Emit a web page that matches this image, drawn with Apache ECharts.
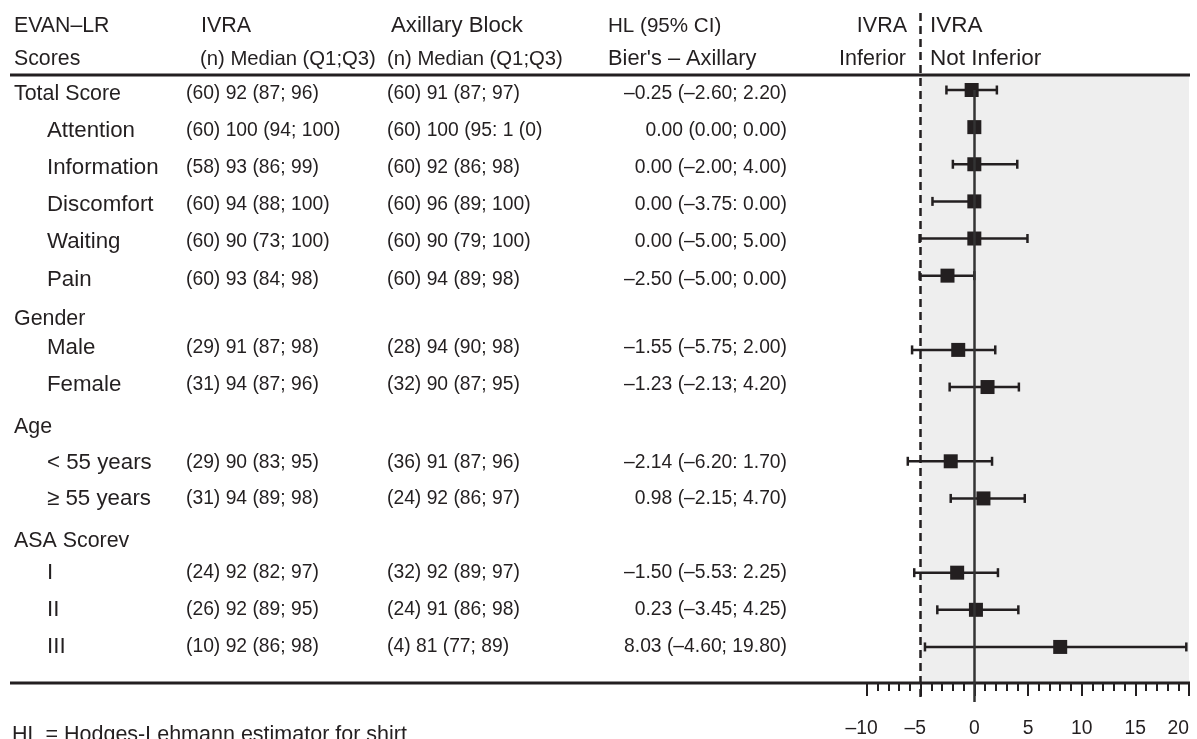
<!DOCTYPE html>
<html>
<head>
<meta charset="utf-8">
<script src="https://cdn.jsdelivr.net/npm/echarts@6/dist/echarts.min.js"></script>
<style>
html,body{margin:0;padding:0;background:#ffffff;}
#c{width:1197px;height:739px;}
</style>
</head>
<body>
<div id="c"></div>
<script>
// ---------- data ----------
const rowLabels = ['Total Score','Attention','Information','Discomfort','Waiting','Pain',
  'Gender','Male','Female','Age','< 55 years','\u2265 55 years','ASA Scorev','I','II','III'];
const rowIndent = [0,1,1,1,1,1,0,1,1,0,1,1,0,1,1,1];
// vertical position (in row units) of each text line
const textRow = [0.11,1.09,2.09,3.1,4.08,5.1,6.17,6.94,7.95,9.08,10.05,11.02,12.15,13.0,14.0,15.0];
const ivraText = ['(60) 92 (87; 96)','(60) 100 (94; 100)','(58) 93 (86; 99)','(60) 94 (88; 100)',
  '(60) 90 (73; 100)','(60) 93 (84; 98)','','(29) 91 (87; 98)','(31) 94 (87; 96)','',
  '(29) 90 (83; 95)','(31) 94 (89; 98)','','(24) 92 (82; 97)','(26) 92 (89; 95)','(10) 92 (86; 98)'];
const axillaryText = ['(60) 91 (87; 97)','(60) 100 (95: 1 (0)','(60) 92 (86; 98)','(60) 96 (89; 100)',
  '(60) 90 (79; 100)','(60) 94 (89; 98)','','(28) 94 (90; 98)','(32) 90 (87; 95)','',
  '(36) 91 (87; 96)','(24) 92 (86; 97)','','(32) 92 (89; 97)','(24) 91 (86; 98)','(4) 81 (77; 89)'];
const hlText = ['\u20130.25 (\u20132.60; 2.20)','0.00 (0.00; 0.00)','0.00 (\u20132.00; 4.00)','0.00 (\u20133.75: 0.00)',
  '0.00 (\u20135.00; 5.00)','\u20132.50 (\u20135.00; 0.00)','','\u20131.55 (\u20135.75; 2.00)','\u20131.23 (\u20132.13; 4.20)','',
  '\u20132.14 (\u20136.20: 1.70)','0.98 (\u20132.15; 4.70)','','\u20131.50 (\u20135.53: 2.25)','0.23 (\u20133.45; 4.25)','8.03 (\u20134.60; 19.80)'];
// plotted estimates and CI; null = heading row
const estimate = [-0.25, 0, 0, 0, 0, -2.5, null, -1.5, 1.23, null, -2.2, 0.85, null, -1.6, 0.15, 8.0];
const ciLow    = [-2.6, 0, -2.0, -3.9, -5.1, -5.1, null, -5.8, -2.3, null, -6.2, -2.2, null, -5.6, -3.45, -4.6];
const ciHigh   = [2.1, 0, 4.0, 0, 4.95, 0, null, 1.95, 4.15, null, 1.65, 4.7, null, 2.2, 4.1, 19.75];
const headerLine1 = ['EVAN\u2013LR','IVRA','Axillary Block','HL (95% CI)','IVRA','IVRA'];
const headerLine2 = ['Scores','(n) Median (Q1;Q3)','(n) Median (Q1;Q3)',"Bier's \u2013 Axillary",'Inferior','Not Inferior'];
const xMin = -10, xMax = 20, xInterval = 5;
const nonInferiorMargin = -5;

// ---------- layout ----------
const FONT = '"Liberation Sans", Arial, Helvetica, sans-serif';
const INK = '#231f20';
const yMin = -2.0738, yMax = 16.483;      // row-unit range of the plot grid
const ruleTop = -0.404, ruleBottom = 15.971;
const head1 = -1.724, head2 = -0.835;
const headerX1 = [14, 201, 391, 608, 907, 930];
const headerX2 = [14, 200, 387, 608, 906, 930];
const headerSize1 = [21.3, 21.5, 22.2, 20.6, 21.5, 22.5];
const headerSize2 = [21.3, 20.3, 20.3, 21.8, 21.5, 22.5];
const headerAlign = ['left','left','left','left','right','left'];

function txt(x, y, s, size, align) {
  return {type:'text', x:x, y:y, silent:true,
    style:{text:s, fill:INK, fontSize:size, fontFamily:FONT, align:align||'left', verticalAlign:'middle'}};
}

function renderRow(params, api) {
  const i = params.dataIndex;
  const y = api.coord([0, textRow[i]])[1];
  const ch = [txt(rowIndent[i] ? 47 : 14, y, rowLabels[i], rowIndent[i] ? 22.3 : 21.4, 'left')];
  if (ivraText[i]) ch.push(txt(186, y, ivraText[i], 19.3, 'left'));
  if (axillaryText[i]) ch.push(txt(387, y, axillaryText[i], 19.3, 'left'));
  if (hlText[i]) ch.push(txt(787, y, hlText[i], 19.3, 'right'));
  return {type:'group', children:ch};
}

function renderFrame(params, api) {
  const y1 = api.coord([0, head1])[1];
  const y2 = api.coord([0, head2])[1];
  const yt = api.coord([0, ruleTop])[1];
  const yb = api.coord([0, ruleBottom])[1];
  const ch = [];
  headerLine1.forEach((s, k) => ch.push(txt(headerX1[k], y1, s, headerSize1[k], headerAlign[k])));
  headerLine2.forEach((s, k) => ch.push(txt(headerX2[k], y2, s, headerSize2[k], headerAlign[k])));
  ch.push({type:'line', silent:true, shape:{x1:10, y1:yt, x2:1190, y2:yt}, style:{stroke:INK, lineWidth:3}});
  ch.push({type:'line', silent:true, shape:{x1:10, y1:yb, x2:1190, y2:yb}, style:{stroke:INK, lineWidth:3}});
  return {type:'group', children:ch};
}

function renderCI(params, api) {
  const lo = api.value(0), hi = api.value(1), row = api.value(2);
  if (lo === hi) return null;
  const p1 = api.coord([lo, row]);
  const p2 = api.coord([hi, row]);
  const st = {stroke:INK, lineWidth:2.5};
  return {type:'group', children:[
    {type:'line', shape:{x1:p1[0], y1:p1[1], x2:p2[0], y2:p2[1]}, style:st},
    {type:'line', shape:{x1:p1[0], y1:p1[1]-4.5, x2:p1[0], y2:p1[1]+4.5}, style:st},
    {type:'line', shape:{x1:p2[0], y1:p2[1]-4.5, x2:p2[0], y2:p2[1]+4.5}, style:st}
  ]};
}

const ciData = [], ptData = [];
estimate.forEach((e, i) => {
  if (e === null) return;
  ciData.push([ciLow[i], ciHigh[i], i]);
  ptData.push([e, i]);
});

const chart = echarts.init(document.getElementById('c'));
chart.setOption({
  animation:false,
  backgroundColor:'#ffffff',
  grid:{left:867, right:8, top:13, bottom:37, containLabel:false, outerBoundsMode:'none'},
  xAxis:{
    type:'value', min:xMin, max:xMax, interval:xInterval, offset:-19,
    axisLine:{show:false, onZero:false},
    axisTick:{show:true, length:13, lineStyle:{color:INK, width:2}},
    minorTick:{show:true, splitNumber:5, length:8, lineStyle:{color:INK, width:2}},
    splitLine:{show:false}, minorSplitLine:{show:false},
    axisLabel:{
      margin:36, color:INK, fontSize:19.3, fontFamily:FONT, alignMaxLabel:'right',
      formatter:function(v){ return v < 0 ? '\u2013' + Math.abs(v) + '{h|\u2013}' : String(v); },
      rich:{h:{color:'rgba(0,0,0,0)', fontSize:19.3, fontFamily:FONT}}
    }
  },
  yAxis:{type:'value', inverse:true, min:yMin, max:yMax, show:false},
  series:[
    {
      type:'custom', name:'ci', coordinateSystem:'cartesian2d', data:ciData,
      encode:{x:[0,1], y:2}, renderItem:renderCI, silent:true, clip:false,
      markArea:{silent:true, itemStyle:{color:'#eeeeee'},
        data:[[{coord:[nonInferiorMargin, ruleTop]},{coord:[xMax, ruleBottom]}]]}
    },
    {
      type:'scatter', name:'HL', data:ptData, symbol:'rect', symbolSize:14,
      itemStyle:{color:INK, opacity:1}, silent:true, z:4,
      markLine:{silent:true, symbol:['none','none'], label:{show:false},
        data:[
          [{coord:[nonInferiorMargin, yMin], lineStyle:{type:[8,5], width:2.5, color:INK}},
           {coord:[nonInferiorMargin, yMax]}],
          [{coord:[0, 0], lineStyle:{type:'solid', width:2.5, color:'#333333'}},
           {coord:[0, yMax]}]
        ]}
    },
    {
      type:'custom', name:'rows', coordinateSystem:'cartesian2d',
      data:rowLabels.map((_, i) => [0, textRow[i]]),
      renderItem:renderRow, silent:true, clip:false, z:3
    },
    {
      type:'custom', name:'frame', coordinateSystem:'cartesian2d',
      data:[[0, 0]], renderItem:renderFrame, silent:true, clip:false, z:3
    }
  ],
  graphic:[{type:'text', left:12, top:724, silent:true,
    style:{text:'HL = Hodges-Lehmann estimator for shirt', fill:INK, fontSize:21.5, fontFamily:FONT}}]
});
</script>
</body>
</html>
